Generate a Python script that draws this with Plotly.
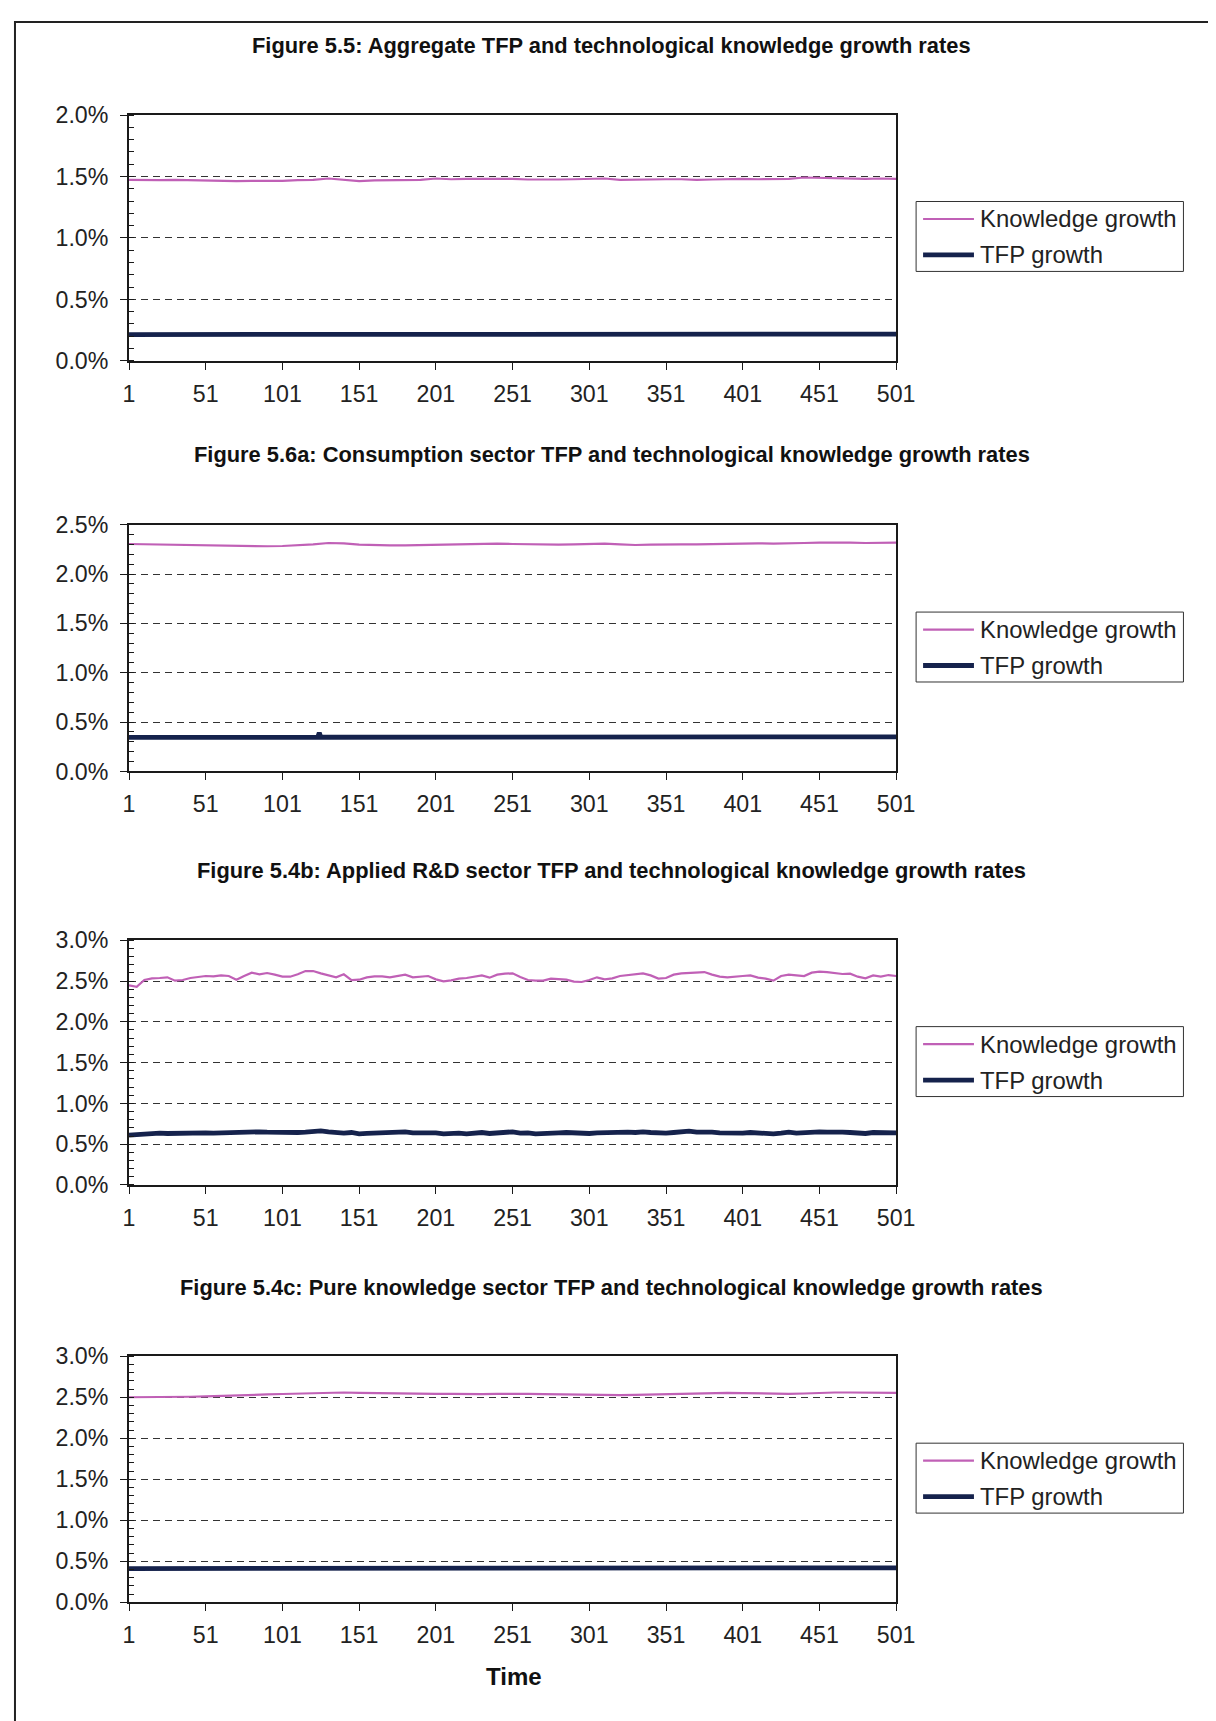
import plotly.graph_objects as go

# Target positions below are given in pixels of the 1216x1721 picture.
# The photographed page maps figure pixels to picture pixels as
#   picture = S * figure + B  (measured), so positions are converted back.
SX, BX = 0.982, 12.7
SY, BY = 0.986, 18.8
W, H = 1226, 1727
FONT = "Liberation Sans, Arial, sans-serif"

# ---------------- data ----------------
TIME_TICKS = [1, 51, 101, 151, 201, 251, 301, 351, 401, 451, 501]
T10 = list(range(1, 502, 10))   # every 10th period
T5 = list(range(1, 502, 5))     # every 5th period

# Figure 5.5 (aggregate), % per period
AGG_KNOWLEDGE = [1.473, 1.470, 1.470, 1.473, 1.470, 1.468, 1.462, 1.462, 1.465, 1.462,
                 1.465, 1.470, 1.473, 1.484, 1.473, 1.462, 1.468, 1.470, 1.468, 1.473,
                 1.484, 1.478, 1.481, 1.481, 1.484, 1.481, 1.476, 1.473, 1.476, 1.478,
                 1.481, 1.484, 1.473, 1.476, 1.478, 1.478, 1.478, 1.473, 1.476, 1.481,
                 1.481, 1.478, 1.478, 1.481, 1.492, 1.489, 1.489, 1.486, 1.481, 1.484,
                 1.481]
AGG_TFP = [0.214, 0.214, 0.213, 0.213, 0.213, 0.213, 0.212, 0.212, 0.212, 0.212,
           0.212, 0.213, 0.214, 0.216, 0.216, 0.215, 0.215, 0.215, 0.216, 0.216,
           0.217, 0.217, 0.217, 0.217, 0.217, 0.217, 0.217, 0.217, 0.217, 0.217,
           0.217, 0.217, 0.217, 0.217, 0.217, 0.217, 0.217, 0.217, 0.217, 0.217,
           0.217, 0.217, 0.217, 0.217, 0.218, 0.218, 0.218, 0.218, 0.218, 0.218,
           0.218]

# Figure 5.6a (consumption sector)
CONS_KNOWLEDGE = [2.304, 2.301, 2.297, 2.294, 2.297, 2.294, 2.287, 2.284, 2.284, 2.281,
                  2.284, 2.291, 2.301, 2.314, 2.311, 2.297, 2.291, 2.291, 2.291, 2.294,
                  2.301, 2.304, 2.304, 2.308, 2.308, 2.304, 2.301, 2.294, 2.297, 2.301,
                  2.304, 2.308, 2.301, 2.294, 2.297, 2.301, 2.301, 2.301, 2.304, 2.308,
                  2.311, 2.311, 2.308, 2.308, 2.314, 2.318, 2.321, 2.318, 2.314, 2.314,
                  2.318]
CONS_TFP_TIME = [1, 21, 41, 61, 81, 101, 121, 124, 125, 126, 131, 151, 181, 211, 241,
                 271, 301, 331, 361, 391, 421, 451, 481, 501]
CONS_TFP = [0.344, 0.344, 0.343, 0.343, 0.343, 0.343, 0.344, 0.345, 0.390, 0.347, 0.346,
            0.346, 0.346, 0.347, 0.347, 0.347, 0.347, 0.347, 0.347, 0.347, 0.348,
            0.350, 0.350, 0.350]

# Figure 5.4b (applied R&D sector)
ARD_KNOWLEDGE = [2.447, 2.430, 2.512, 2.533, 2.537, 2.545, 2.504, 2.512, 2.537, 2.553,
                 2.561, 2.557, 2.569, 2.561, 2.516, 2.561, 2.602, 2.582, 2.598, 2.578,
                 2.553, 2.553, 2.582, 2.622, 2.622, 2.594, 2.573, 2.545, 2.582, 2.512,
                 2.516, 2.545, 2.557, 2.557, 2.545, 2.561, 2.578, 2.545, 2.553, 2.561,
                 2.520, 2.496, 2.508, 2.529, 2.537, 2.557, 2.569, 2.541, 2.578, 2.590,
                 2.594,
                 2.549, 2.512, 2.504, 2.504, 2.529, 2.520, 2.516, 2.492, 2.488, 2.512,
                 2.545, 2.520, 2.533, 2.561, 2.573, 2.586, 2.594, 2.569, 2.529, 2.537,
                 2.578, 2.594, 2.602, 2.602, 2.610, 2.578, 2.553, 2.545, 2.549, 2.561,
                 2.569, 2.541, 2.529, 2.504, 2.561, 2.578, 2.569, 2.561, 2.602, 2.614,
                 2.610, 2.594, 2.586, 2.590, 2.553, 2.533, 2.569, 2.553, 2.573, 2.561]
ARD_TFP = [0.610, 0.618, 0.622, 0.631, 0.635, 0.631, 0.635, 0.626, 0.631, 0.635,
           0.639, 0.635, 0.639, 0.643, 0.635, 0.639, 0.647, 0.651, 0.647, 0.643,
           0.639, 0.635, 0.643, 0.647, 0.655, 0.663, 0.651, 0.643, 0.635, 0.643,
           0.626, 0.631, 0.635, 0.635, 0.639, 0.635, 0.651, 0.639, 0.639, 0.643,
           0.639, 0.626, 0.631, 0.635, 0.626, 0.631, 0.643, 0.631, 0.639, 0.639,
           0.651,
           0.635, 0.639, 0.626, 0.626, 0.635, 0.639, 0.643, 0.635, 0.626, 0.631,
           0.639, 0.643, 0.635, 0.643, 0.647, 0.643, 0.651, 0.643, 0.635, 0.635,
           0.643, 0.647, 0.659, 0.647, 0.651, 0.647, 0.639, 0.635, 0.639, 0.635,
           0.643, 0.635, 0.631, 0.626, 0.635, 0.647, 0.635, 0.643, 0.651, 0.651,
           0.647, 0.651, 0.647, 0.643, 0.635, 0.631, 0.643, 0.639, 0.635, 0.639]

# Figure 5.4c (pure knowledge sector)
PURE_KNOWLEDGE = [2.500, 2.500, 2.502, 2.503, 2.506, 2.510, 2.514, 2.518, 2.526, 2.534,
                  2.540, 2.544, 2.552, 2.558, 2.558, 2.554, 2.550, 2.546, 2.546, 2.542,
                  2.542, 2.542, 2.538, 2.538, 2.542, 2.546, 2.542, 2.538, 2.534, 2.530,
                  2.526, 2.522, 2.526, 2.530, 2.534, 2.538, 2.542, 2.546, 2.554, 2.554,
                  2.550, 2.546, 2.542, 2.542, 2.546, 2.554, 2.558, 2.558, 2.555, 2.553,
                  2.553]
PURE_TFP = [0.410, 0.410, 0.411, 0.411, 0.412, 0.412, 0.413, 0.414, 0.415, 0.416,
            0.417, 0.418, 0.418, 0.419, 0.419, 0.418, 0.418, 0.418, 0.418, 0.418,
            0.418, 0.418, 0.418, 0.418, 0.418, 0.418, 0.418, 0.418, 0.418, 0.418,
            0.418, 0.418, 0.418, 0.418, 0.418, 0.418, 0.418, 0.419, 0.419, 0.419,
            0.419, 0.419, 0.419, 0.419, 0.419, 0.420, 0.420, 0.420, 0.420, 0.420,
            0.420]

TITLES = [
    "Figure 5.5: Aggregate TFP and technological knowledge growth rates",
    "Figure 5.6a: Consumption sector TFP and technological knowledge growth rates",
    "Figure 5.4b: Applied R&D sector TFP and technological knowledge growth rates",
    "Figure 5.4c: Pure knowledge sector TFP and technological knowledge growth rates",
]
LEGEND_NAMES = ["Knowledge growth", "TFP growth"]
X_TITLE = "Time"
Y_MAX = [2.0, 2.5, 3.0, 3.0]
SERIES = [
    (T10, AGG_KNOWLEDGE, T10, AGG_TFP),
    (T10, CONS_KNOWLEDGE, CONS_TFP_TIME, CONS_TFP),
    (T5, ARD_KNOWLEDGE, T5, ARD_TFP),
    (T10, PURE_KNOWLEDGE, T10, PURE_TFP),
]

# ---------------- layout (target picture pixels) ----------------
PLOT_L, PLOT_R = 128, 897
PLOT_TB = [(113, 359), (523, 770), (939, 1184), (1355.5, 1601.7)]
TITLE_Y = [43, 453, 869, 1287]
LEGEND_TOP = [199.5, 610.5, 1025.5, 1442.5]
LEGEND_L, LEGEND_R, LEGEND_HGT = 917, 1185, 70

K_COLOR = "#C060B6"
T_COLOR = "#15224C"
AX_COLOR = "#1a1a1a"


def px(x):
    return ((x - BX) / SX) / W


def py(y):
    return 1 - ((y - BY) / SY) / H


fig = go.Figure()
layout = dict(
    width=W, height=H,
    margin=dict(l=0, r=0, t=0, b=0),
    paper_bgcolor="white", plot_bgcolor="white",
    font=dict(family=FONT, color="#222", size=23),
    showlegend=False,
    annotations=[], shapes=[],
)

for i in range(4):
    n = "" if i == 0 else str(i + 1)
    tk, kv, tt, tv = SERIES[i]
    fig.add_trace(go.Scatter(x=tk, y=kv, mode="lines", name=LEGEND_NAMES[0],
                             line=dict(color=K_COLOR, width=2.2),
                             xaxis="x" + n, yaxis="y" + n))
    fig.add_trace(go.Scatter(x=tt, y=tv, mode="lines", name=LEGEND_NAMES[1],
                             line=dict(color=T_COLOR, width=4.8),
                             xaxis="x" + n, yaxis="y" + n))
    top, bot = PLOT_TB[i]
    layout["xaxis" + n] = dict(
        domain=[px(PLOT_L), px(PLOT_R)], anchor="y" + n,
        range=[1, 501], tickmode="array", tickvals=TIME_TICKS,
        ticks="outside", ticklen=7, tickcolor=AX_COLOR, tickwidth=1,
        showline=True, linecolor=AX_COLOR, linewidth=2, mirror=True,
        showgrid=False, zeroline=False, ticklabelstandoff=4,
        tickfont=dict(size=23.2, family=FONT, color="#222"),
    )
    layout["yaxis" + n] = dict(
        domain=[py(bot), py(top)], anchor="x" + n,
        range=[0, Y_MAX[i]], dtick=0.5, tick0=0, tickformat=".1f", ticksuffix="%",
        ticks="outside", ticklen=7, tickcolor=AX_COLOR, tickwidth=1,
        minor=dict(dtick=0.1, ticks="inside", ticklen=5, tickcolor=AX_COLOR, showgrid=False),
        showline=True, linecolor=AX_COLOR, linewidth=2, mirror=True,
        showgrid=True, gridcolor="#333", gridwidth=1, griddash="7px,5px",
        zeroline=False, ticklabelstandoff=7,
        tickfont=dict(size=23.2, family=FONT, color="#222"),
    )
    layout["annotations"].append(dict(
        text=TITLES[i], x=px(612), y=py(TITLE_Y[i]), xref="paper", yref="paper",
        xanchor="center", yanchor="middle", showarrow=False,
        font=dict(size=21.85, family=FONT, color="#111", weight="bold"),
    ))
    # legend box, drawn by hand
    lt = LEGEND_TOP[i]
    layout["shapes"].append(dict(
        type="rect", xref="paper", yref="paper",
        x0=px(LEGEND_L), x1=px(LEGEND_R), y0=py(lt + LEGEND_HGT), y1=py(lt),
        line=dict(color="#333", width=1), fillcolor="white",
    ))
    for j, (col, wid, dy) in enumerate([(K_COLOR, 2.2, 17.5), (T_COLOR, 4.8, 53.5)]):
        layout["shapes"].append(dict(
            type="line", xref="paper", yref="paper",
            x0=px(LEGEND_L + 7), x1=px(LEGEND_L + 58), y0=py(lt + dy), y1=py(lt + dy),
            line=dict(color=col, width=wid),
        ))
        layout["annotations"].append(dict(
            text=LEGEND_NAMES[j], x=px(LEGEND_L + 62), y=py(lt + dy),
            xref="paper", yref="paper", xanchor="left", yanchor="middle",
            showarrow=False, font=dict(size=23.9, family=FONT, color="#222"),
        ))

layout["annotations"].append(dict(
    text=X_TITLE, x=px(514), y=py(1676), xref="paper", yref="paper",
    xanchor="center", yanchor="middle", showarrow=False,
    font=dict(size=24, family=FONT, color="#111", weight="bold"),
))

# page frame (left and top edges visible)
layout["shapes"].append(dict(
    type="rect", xref="paper", yref="paper",
    x0=1 / W, x1=1.05, y0=-0.05, y1=1 - 1 / H,
    line=dict(color="#222", width=2), fillcolor="rgba(0,0,0,0)", layer="below",
))

fig.update_layout(**layout)
fig.write_html("out.html")
